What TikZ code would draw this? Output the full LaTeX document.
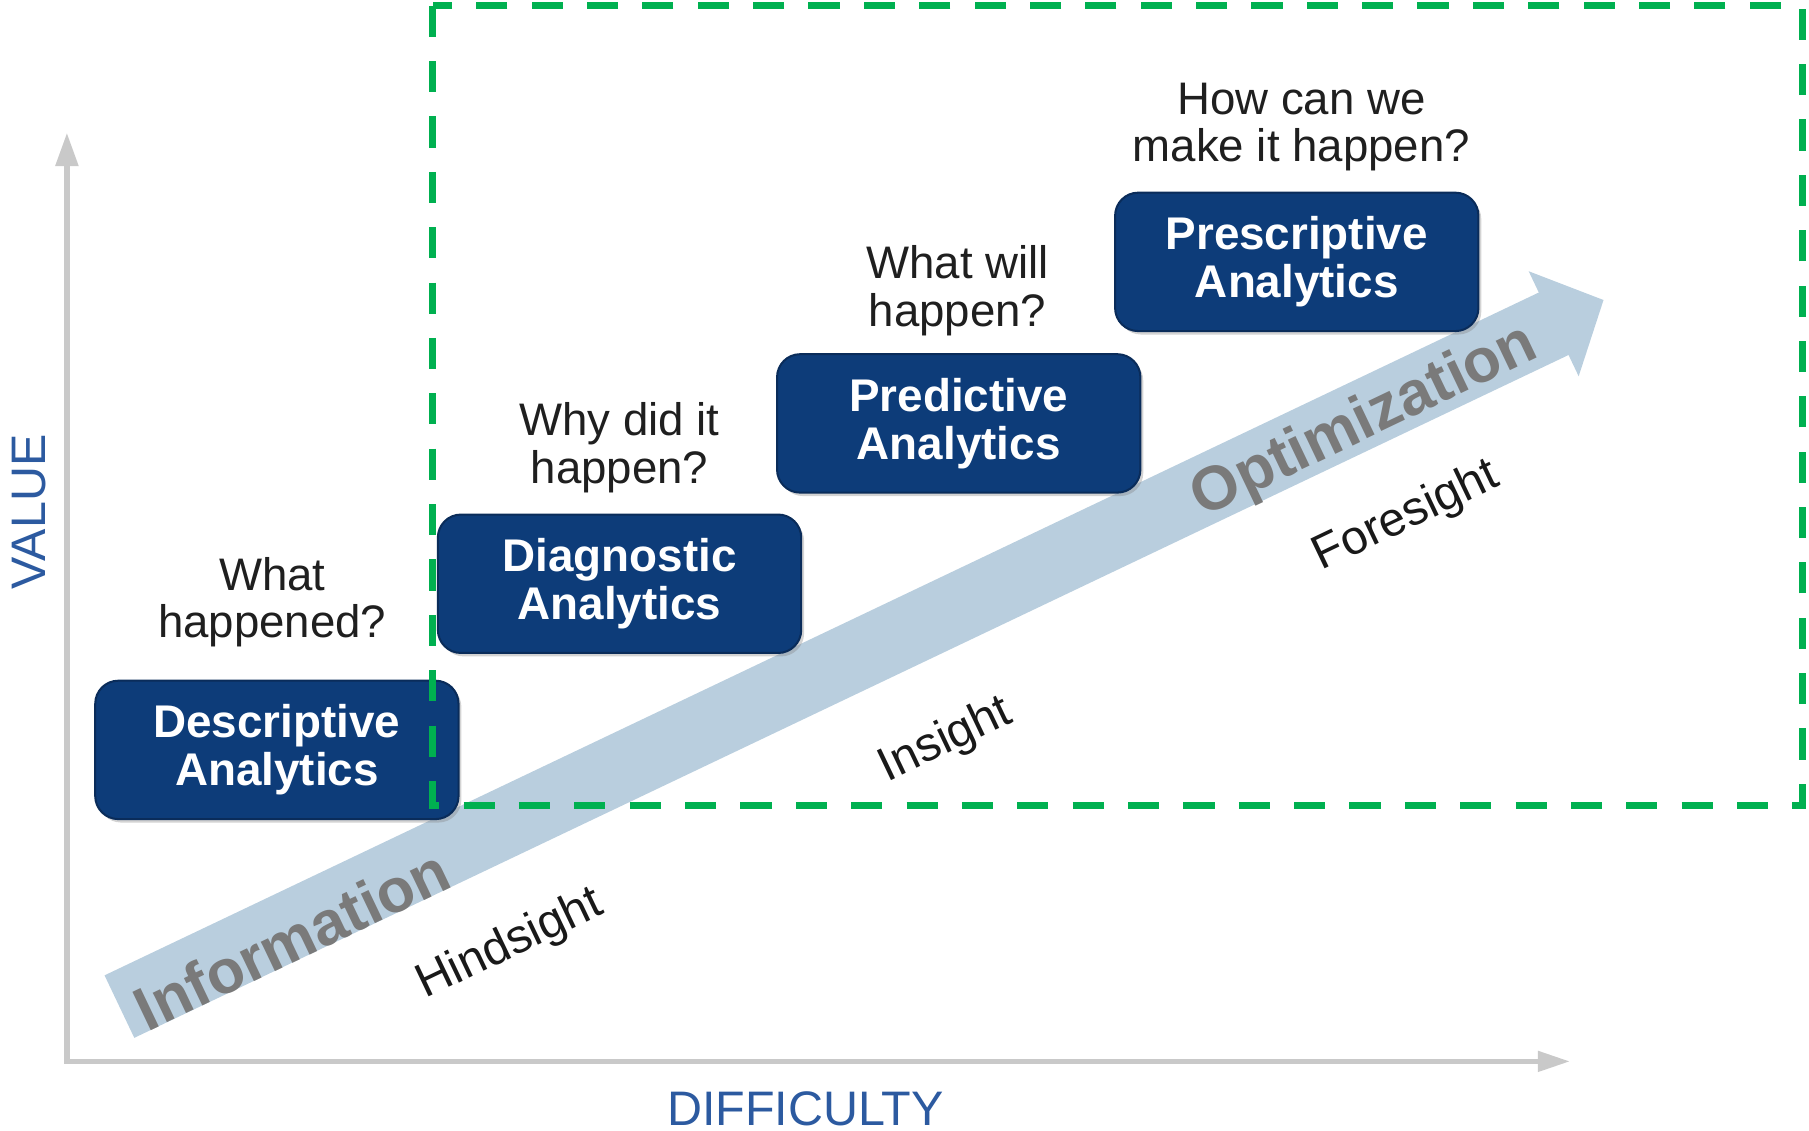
\documentclass[tikz,border=0pt]{standalone}
\usepackage{fontspec}
\setmainfont{Liberation Sans}
\usepackage{xcolor}
\usepackage{tikz}
\usetikzlibrary{arrows.meta,shadows}
\definecolor{navy}{HTML}{0D3C79}
\definecolor{navyedge}{HTML}{0A2C5A}
\definecolor{flowblue}{HTML}{B9CEDE}
\definecolor{axisgray}{HTML}{C9C9C9}
\definecolor{labelblue}{HTML}{2C5AA0}
\definecolor{wordgray}{HTML}{7A7A7A}
\definecolor{zonegreen}{HTML}{00B050}

\tikzset{
  stage/.style={fill=navy,draw=navyedge,line width=1pt,rounded corners=0.4cm,
    minimum width=6.3cm,minimum height=2.4cm,text=white,align=center,
    font=\fontsize{22.6pt}{23.9pt}\selectfont\bfseries,
    drop shadow={shadow xshift=0.05cm,shadow yshift=-0.06cm,opacity=0.35}},
  ask/.style={align=center,inner sep=0pt,text=black!88,
    font=\fontsize{22.5pt}{23.3pt}\selectfont},
  sight/.style={rotate=25.5,inner sep=0pt,text=black!90,
    font=\fontsize{23.6pt}{24pt}\selectfont},
  flowword/.style={rotate=25.5,inner sep=0pt,text=wordgray,
    font=\fontsize{30.5pt}{32pt}\selectfont\bfseries},
  axislabel/.style={inner sep=0pt,text=labelblue,
    font=\fontsize{23.9pt}{24pt}\selectfont},
  axisline/.style={draw=axisgray,line width=0.1cm,
    {Triangle[length=0.58cm,width=0.38cm]}-{Triangle[length=0.56cm,width=0.34cm]}},
  flow/.style={draw=flowblue,line width=1.2cm,-{Triangle[length=0.96cm,width=1.96cm]}},
  zone/.style={draw=zonegreen,line width=0.12cm,dash pattern=on 0.54cm off 0.42cm}
}

\begin{document}
\begin{tikzpicture}[x=0.02cm,y=0.02cm]
  \useasboundingbox (0,0) rectangle (1568,980);

  \coordinate (origin) at (58,60);
  \coordinate (ytop) at (58,865);
  \coordinate (xend) at (1361,60);
  \draw[axisline] (ytop) -- (origin) -- (xend);
  \node[axislabel,rotate=90] (value) at (25,536) {VALUE};
  \node[axislabel] (difficulty) at (698,19) {DIFFICULTY};

  \coordinate (flowstart) at (103.5,107.5);
  \coordinate (flowend) at (1390,720);
  \draw[flow] (flowstart) -- (flowend);
  \node[flowword] (info) at (253,166) {Information};
  \node[flowword] (optim) at (1183,614) {Optimization};

  \node[sight] (hind) at (442,161) {Hindsight};
  \node[sight] (ins) at (820,338) {Insight};
  \node[sight] (fore) at (1219,532) {Foresight};

  \node[stage] (descr) at (240,330) {Descriptive\\Analytics};
  \node[stage] (diagn) at (537,474) {Diagnostic\\Analytics};
  \node[stage] (predi) at (831,613) {Predictive\\Analytics};
  \node[stage] (presc) at (1124,753) {Prescriptive\\Analytics};

  \node[ask] (q1) at (236,458) {What\\happened?};
  \node[ask] (q2) at (537,592) {Why did it\\happen?};
  \node[ask] (q3) at (830,728) {What will\\happen?};
  \node[ask] (q4) at (1128,870) {How can we\\make it happen?};

  \draw[zone] (375,975) rectangle (1562,282);
\end{tikzpicture}
\end{document}
